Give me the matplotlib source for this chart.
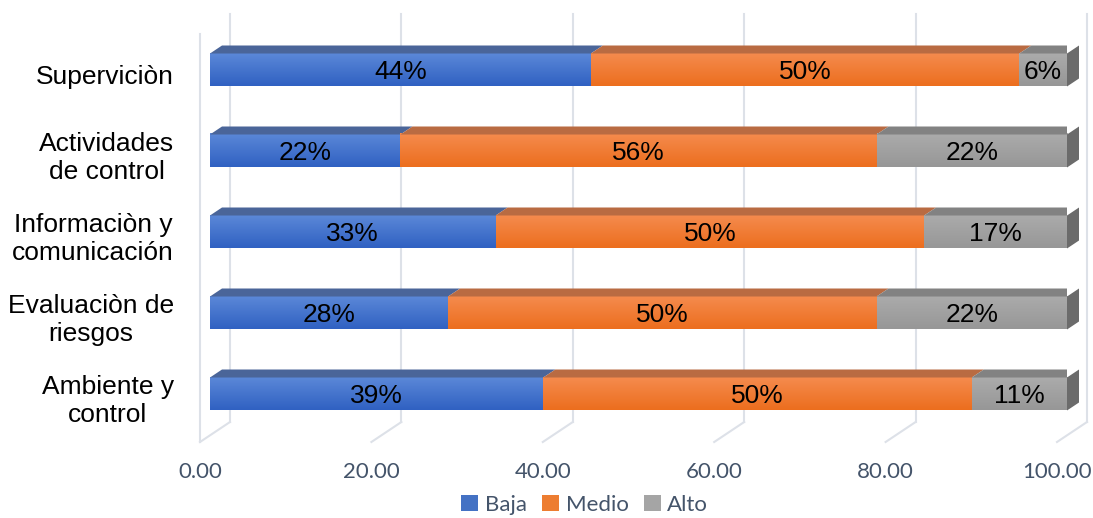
import numpy as np
import matplotlib.pyplot as plt
from matplotlib.patches import Polygon, Patch
from matplotlib.colors import to_rgb

# data (share of 18 answers, in %)
categories = ['Superviciòn', 'Actividades\nde control', 'Informaciòn y\ncomunicación',
              'Evaluaciòn de\nriesgos', 'Ambiente y\ncontrol']
baja = [44.44, 22.22, 33.33, 27.78, 38.89]
medio = [50.00, 55.56, 50.00, 50.00, 50.00]
alto = [5.56, 22.22, 16.67, 22.22, 11.11]
series_names = ['Baja', 'Medio', 'Alto']
ticks = [0, 20, 40, 60, 80, 100]

# styles
front_top = ['#5b88d8', '#f58b4e', '#ababab']
front_bot = ['#3061c2', '#ec6e1e', '#979797']
top_face = ['#4a6599', '#b96b42', '#828282']
legend_col = ['#4472c4', '#ed7d31', '#a5a5a5']
side_face = '#6b6b6b'
grid_col = '#dde1e8'
txt_col = '#44546a'

fig = plt.figure(figsize=(10.93, 5.18), dpi=100)
W, H = 1093, 518
# axes: x 0..100 on the bars' front plane, from px 210 to 1067; y from px 14 to 442
ax = fig.add_axes([210 / W, (H - 442) / H, 857 / W, 428 / H])
ax.axis('off')

ux = 857 / 100   # px per x unit
uy = 81          # px per row


def dx(px):
    return px / ux


def dy(px):
    return px / uy


y_pos = np.arange(len(categories))[::-1]
h = dy(33)
yfloor = -dy(41.3)
depth_bar = (dx(12), dy(8))
depth_wall = (dx(20), dy(13.3))
depth_front = (dx(-10), dy(-6.7))
ytop = 4 + 56 / 81

# walls / gridlines
for v in ticks:
    xb = v + depth_wall[0]
    yb = yfloor + depth_wall[1]
    ax.plot([xb, xb], [yb, ytop], color=grid_col, lw=1.5, zorder=0, clip_on=False)
    ax.plot([v + depth_front[0], xb], [yfloor + depth_front[1], yb], color=grid_col,
            lw=1.5, zorder=0, clip_on=False)
    ax.text(v + depth_front[0], yfloor + depth_front[1] - dy(30), f'{v:.2f}',
            ha='center', va='center', fontsize=16, color=txt_col, family='Lato')
xl = depth_front[0]
ax.plot([xl, xl], [yfloor + depth_front[1], ytop - depth_wall[1] + depth_front[1]],
        color=grid_col, lw=1.5, zorder=0, clip_on=False)

# bars
data = np.array([baja, medio, alto])
for i, y in enumerate(y_pos):
    left = 0
    for s in range(3):
        w = data[s][i]
        right = left + w
        c1, c2 = np.array(to_rgb(front_top[s])), np.array(to_rgb(front_bot[s]))
        grad = np.linspace(0, 1, 64)[:, None, None]
        img = c1 * (1 - grad) + c2 * grad
        ax.imshow(img, extent=[left, right, y - h / 2, y + h / 2], aspect='auto',
                  origin='upper', zorder=2, interpolation='bilinear')
        ax.add_patch(Polygon([(left, y + h / 2), (right, y + h / 2),
                              (right + depth_bar[0], y + h / 2 + depth_bar[1]),
                              (left + depth_bar[0], y + h / 2 + depth_bar[1])],
                             closed=True, facecolor=top_face[s], edgecolor='none', zorder=2))
        ax.text((left + right) / 2, y - dy(2), f'{w:.0f}%', ha='center', va='center',
                fontsize=19, family='Liberation Sans', color='black', zorder=4)
        left = right
    ax.add_patch(Polygon([(left, y - h / 2), (left, y + h / 2),
                          (left + depth_bar[0], y + h / 2 + depth_bar[1]),
                          (left + depth_bar[0], y - h / 2 + depth_bar[1])],
                         closed=True, facecolor=side_face, edgecolor='none', zorder=2,
                         clip_on=False))

# category labels
for y, name in zip(y_pos, categories):
    ax.text(-dx(36), y - dy(7), name, ha='right', va='center', multialignment='center',
            fontsize=19, family='Liberation Sans', color='black', linespacing=1.2)

ax.set_xlim(0, 100)
ax.set_ylim(-48 / 81, ytop)

handles = [Patch(facecolor=c, edgecolor='none') for c in legend_col]
fig.legend(handles, series_names, loc='center', bbox_to_anchor=(0.535, 0.026), ncol=3,
           frameon=False, prop={'family': 'Lato', 'size': 16}, labelcolor=txt_col,
           handlelength=0.75, handleheight=0.75, handletextpad=0.3, columnspacing=0.7,
           borderpad=0)

fig.savefig('out.png', dpi=100)
